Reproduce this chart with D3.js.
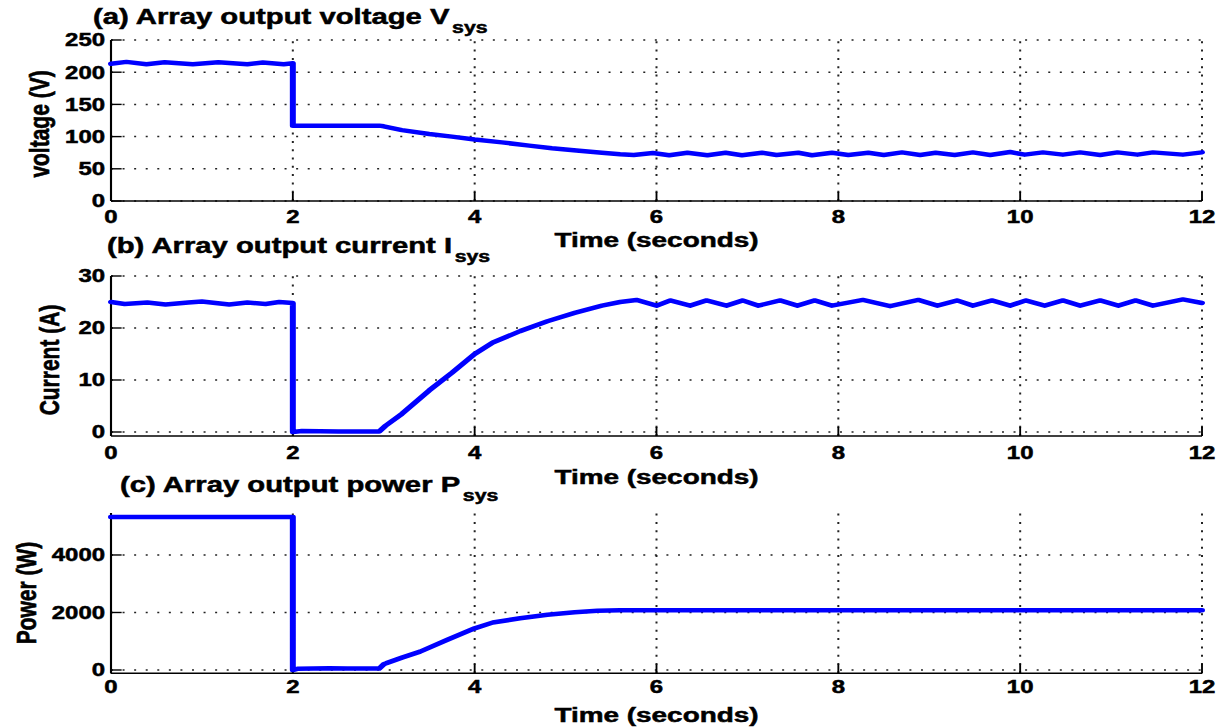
<!DOCTYPE html>
<html>
<head>
<meta charset="utf-8">
<script src="https://cdn.jsdelivr.net/npm/d3@7"></script>
<style>
  html, body { margin: 0; padding: 0; background: #fff; overflow: hidden; }
  text { font-family: "Liberation Sans", Arial, Helvetica, sans-serif; font-weight: bold; fill: #000;
         stroke: #000; stroke-width: 0.5px; paint-order: stroke; }
</style>
</head>
<body>
<svg id="chart"></svg>
<script>
// ---- Data -------------------------------------------------------------
const xTicks = [0, 2, 4, 6, 8, 10, 12];

// (a) array output voltage (V)
const voltageT = [0, 0.17, 0.39, 0.59, 0.9, 1.18, 1.5, 1.67, 1.9, 2.0, 2.0, 2.95, 3.0, 3.2, 3.5, 3.75, 4.0, 4.3, 4.6, 4.85, 5.15, 5.4, 5.6, 5.75,
  5.96, 6.14, 6.34, 6.56, 6.76, 6.94, 7.16, 7.32, 7.56, 7.71, 7.93, 8.11, 8.33, 8.5, 8.7, 8.9, 9.07, 9.28, 9.48, 9.67, 9.89, 10.05,
  10.25, 10.47, 10.66, 10.88, 11.07, 11.29, 11.46, 11.79, 12.0];
const voltageV = [213, 216, 212.5, 215.5, 212.5, 215.5, 212.5, 215, 212.5, 214, 117, 117, 116, 110, 104, 100, 95.5, 91, 86, 82, 78, 75, 72.5, 71.5,
  74.5, 71, 75, 71, 75, 71, 75, 71.5, 75, 71, 75, 71.5, 75, 71.5, 75.5, 71.5, 75, 71.5, 75.5, 71.5, 76, 72,
  75.5, 72, 75.5, 71.5, 75.5, 72, 75.5, 72, 75.5];
const voltageTicks = [0, 50, 100, 150, 200, 250];

// (b) array output current (A)
const currentT = [0, 0.15, 0.4, 0.6, 0.85, 1.0, 1.3, 1.5, 1.7, 1.85, 2.0, 2.0, 2.1, 2.5, 2.95, 3.02, 3.2, 3.5, 3.75, 4.0, 4.2, 4.5, 4.8, 5.1, 5.4, 5.6, 5.78,
  6.0, 6.15, 6.37, 6.55, 6.77, 6.95, 7.12, 7.36, 7.55, 7.74, 7.93, 8.27, 8.57, 8.88, 9.09, 9.31, 9.48, 9.69, 9.89, 10.06, 10.27,
  10.47, 10.66, 10.88, 11.08, 11.27, 11.46, 11.79, 12.0];
const currentA = [25.0, 24.6, 24.9, 24.5, 24.9, 25.1, 24.5, 24.9, 24.6, 25.0, 24.8, 0, 0.2, 0.1, 0.1, 1.2, 3.5, 8.0, 11.4, 15.0, 17.2, 19.4, 21.3, 22.9, 24.3, 25.0, 25.4,
  24.3, 25.3, 24.3, 25.3, 24.3, 25.3, 24.3, 25.3, 24.3, 25.3, 24.3, 25.4, 24.2, 25.4, 24.3, 25.3, 24.3, 25.3, 24.3, 25.3, 24.3,
  25.3, 24.3, 25.3, 24.3, 25.3, 24.3, 25.5, 24.8];
const currentTicks = [0, 10, 20, 30];

// (c) array output power (W)
const powerT = [0, 2.0, 2.0, 2.05, 2.4, 2.6, 2.95, 3.0, 3.03, 3.2, 3.4, 3.7, 4.0, 4.2, 4.5, 4.8, 5.1, 5.35, 5.6, 12.0];
const powerW = [5320, 5320, 0, 40, 60, 50, 50, 200, 240, 430, 640, 1050, 1450, 1650, 1800, 1920, 2010, 2060, 2080, 2080];
const powerTicks = [0, 2000, 4000];

// ---- Layout -----------------------------------------------------------
const W = 1222, H = 728;
const SX = 1.33;               // horizontal stretch of the drawing
const VW = W / SX;

const svg = d3.select('#chart')
  .attr('width', W).attr('height', H)
  .attr('viewBox', `0 0 ${VW} ${H}`)
  .attr('preserveAspectRatio', 'none');

const x = d3.scaleLinear().domain([0, 12]).range([111 / SX, 1202 / SX]);

const panels = [
  { t: voltageT, v: voltageV, ticks: voltageTicks, domain: [0, 250], range: [201, 40],
    title: '(a) Array output voltage V', titleX: 93, titleY: 24,
    ylabel: 'voltage (V)', ylabelX: 49, ylabelY: 124, tickLabelY: 223, timeY: 247 },
  { t: currentT, v: currentA, ticks: currentTicks, domain: [-0.77, 30], range: [436, 276],
    title: '(b) Array output current I', titleX: 107, titleY: 253,
    ylabel: 'Current (A)', ylabelX: 59, ylabelY: 360, tickLabelY: 459, timeY: 484 },
  { t: powerT, v: powerW, ticks: powerTicks, domain: [-115, 5460], range: [673.3, 513],
    title: '(c) Array output power P', titleX: 120, titleY: 492,
    ylabel: 'Power (W)', ylabelX: 36, ylabelY: 593, tickLabelY: 693, timeY: 722 }
];

panels.forEach(p => {
  const y = d3.scaleLinear().domain(p.domain).range(p.range);
  const g = svg.append('g');
  const [x0, x1] = x.range();
  const yb = y.range()[0], yt = y.range()[1];

  // dotted grid
  g.append('g').selectAll('line').data(p.ticks).join('line')
    .attr('x1', x0).attr('x2', x1)
    .attr('y1', d => y(d)).attr('y2', d => y(d))
    .attr('stroke', '#222').attr('stroke-width', 1.5)
    .attr('stroke-dasharray', '1.5 7.2');
  g.append('g').selectAll('line').data(xTicks.filter(d => d > 0)).join('line')
    .attr('x1', d => x(d)).attr('x2', d => x(d))
    .attr('y1', yb).attr('y2', yt)
    .attr('stroke', '#222').attr('stroke-width', 1.5)
    .attr('stroke-dasharray', '2 6.3');

  // axes lines
  g.append('line').attr('x1', x0).attr('x2', x0).attr('y1', yb).attr('y2', yt)
    .attr('stroke', '#000').attr('stroke-width', 1.6);
  g.append('line').attr('x1', x0).attr('x2', x1).attr('y1', yb).attr('y2', yb)
    .attr('stroke', '#000').attr('stroke-width', 1.6);

  // inward ticks
  g.append('g').selectAll('line').data(xTicks).join('line')
    .attr('x1', d => x(d)).attr('x2', d => x(d))
    .attr('y1', yb).attr('y2', yb - 9)
    .attr('stroke', '#000').attr('stroke-width', 1.4);
  g.append('g').selectAll('line').data(p.ticks).join('line')
    .attr('x1', x0).attr('x2', x0 + 8)
    .attr('y1', d => y(d)).attr('y2', d => y(d))
    .attr('stroke', '#000').attr('stroke-width', 1.4);

  // tick labels
  g.append('g').selectAll('text').data(xTicks).join('text')
    .attr('x', d => x(d)).attr('y', p.tickLabelY)
    .attr('text-anchor', 'middle').attr('font-size', 18)
    .text(d => d);
  g.append('g').selectAll('text').data(p.ticks).join('text')
    .attr('x', 105 / SX).attr('y', d => y(d)).attr('dy', '0.36em')
    .attr('text-anchor', 'end').attr('font-size', 18)
    .text(d => d);

  // axis titles
  g.append('text')
    .attr('x', (x0 + x1) / 2).attr('y', p.timeY)
    .attr('text-anchor', 'middle').attr('font-size', 21)
    .text('Time (seconds)');
  g.append('text')
    .attr('transform', `translate(${p.ylabelX / SX},${p.ylabelY}) rotate(-90)`)
    .attr('text-anchor', 'middle').attr('font-size', 21)
    .text(p.ylabel);

  // panel title with subscript
  const tt = g.append('text')
    .attr('x', p.titleX / SX).attr('y', p.titleY)
    .attr('font-size', 22);
  tt.append('tspan').text(p.title);
  tt.append('tspan').attr('dx', 2).attr('dy', 9).attr('font-size', 16).text('sys');

  // signal trace
  const line = d3.line().x(i => x(p.t[i])).y(i => y(p.v[i]));
  g.append('path')
    .attr('d', line(d3.range(p.t.length)))
    .attr('fill', 'none').attr('stroke', '#0000ff')
    .attr('stroke-width', 4.5).attr('stroke-linejoin', 'round').attr('stroke-linecap', 'round');
});
</script>
</body>
</html>
